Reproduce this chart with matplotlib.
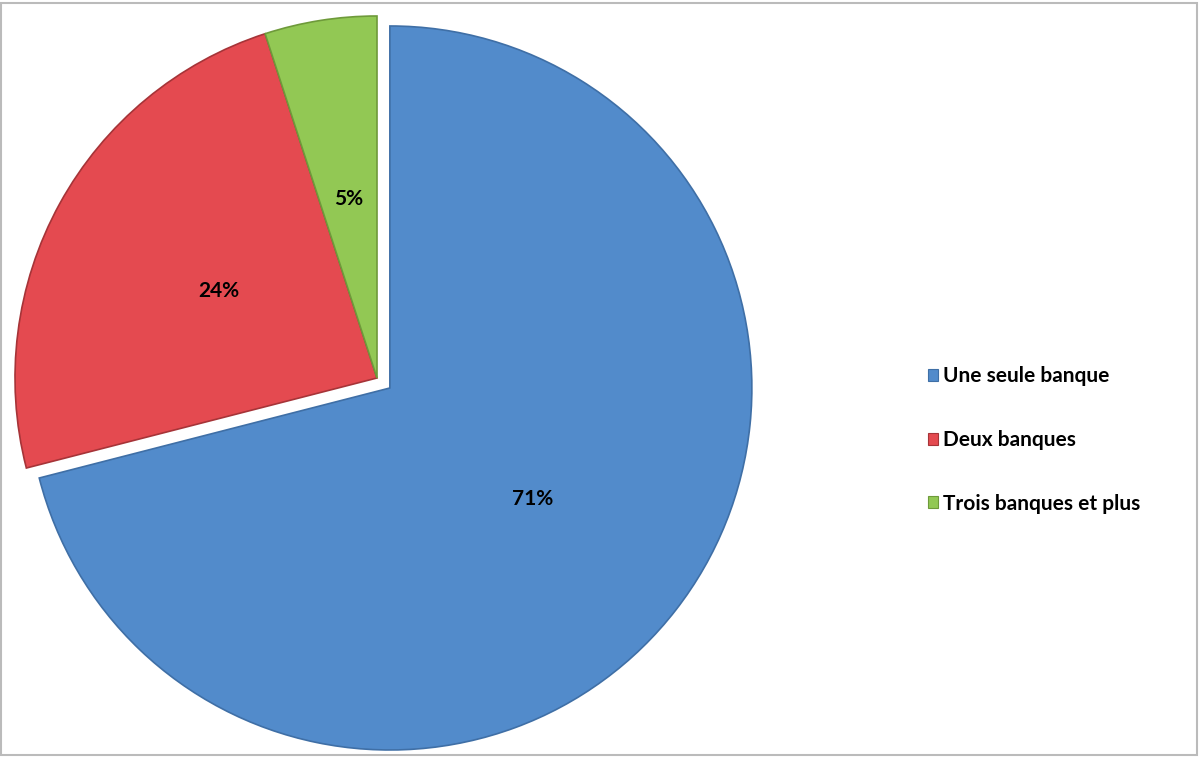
import matplotlib
matplotlib.use('Agg')
import matplotlib.pyplot as plt
from matplotlib.patches import Rectangle

categories = ['Une seule banque', 'Deux banques', 'Trois banques et plus']
shares = [71, 24, 5]
colors = ['#528BCB', '#E44A50', '#92C854']
edges = ['#3F6FA6', '#A63438', '#6E9A3A']

plt.rcParams['font.family'] = ['Lato', 'DejaVu Sans']

fig = plt.figure(figsize=(12, 7.57), dpi=100)
ax = fig.add_axes([0, 0, 1, 1])

# pie centre at pixel (377, 378), radius ~362 px
r = 362.0

wedges, texts, autotexts = ax.pie(
    shares, colors=colors, startangle=90, counterclock=False,
    explode=[0.045, 0, 0], autopct='%.0f%%', pctdistance=0.5,
    wedgeprops=dict(linewidth=1.2), frame=True,
    textprops=dict(fontsize=15, fontweight='bold', color='black'))
for w, ec in zip(wedges, edges):
    w.set_edgecolor(ec)
ax.set_xlim(-377 / r, (1200 - 377) / r)
ax.set_ylim(-(757 - 378) / r, 378 / r)
ax.set_aspect('auto')
ax.axis('off')

leg = fig.legend(wedges, categories, loc='center left',
                 bbox_to_anchor=(909 / 1200, 1 - 440 / 757),
                 frameon=False, handlelength=0.5, handleheight=0.5,
                 handletextpad=0.25, labelspacing=2.1,
                 prop=dict(size=15, weight='bold'))
for h in leg.legend_handles:
    h.set_linewidth(0.8)

fig.patches.append(Rectangle((0.5 / 1200, 2 / 757), 1196.5 / 1200, 752 / 757,
                             transform=fig.transFigure, fill=False,
                             edgecolor='#BBBBBB', linewidth=1.5))

fig.savefig('out.png', dpi=100)
